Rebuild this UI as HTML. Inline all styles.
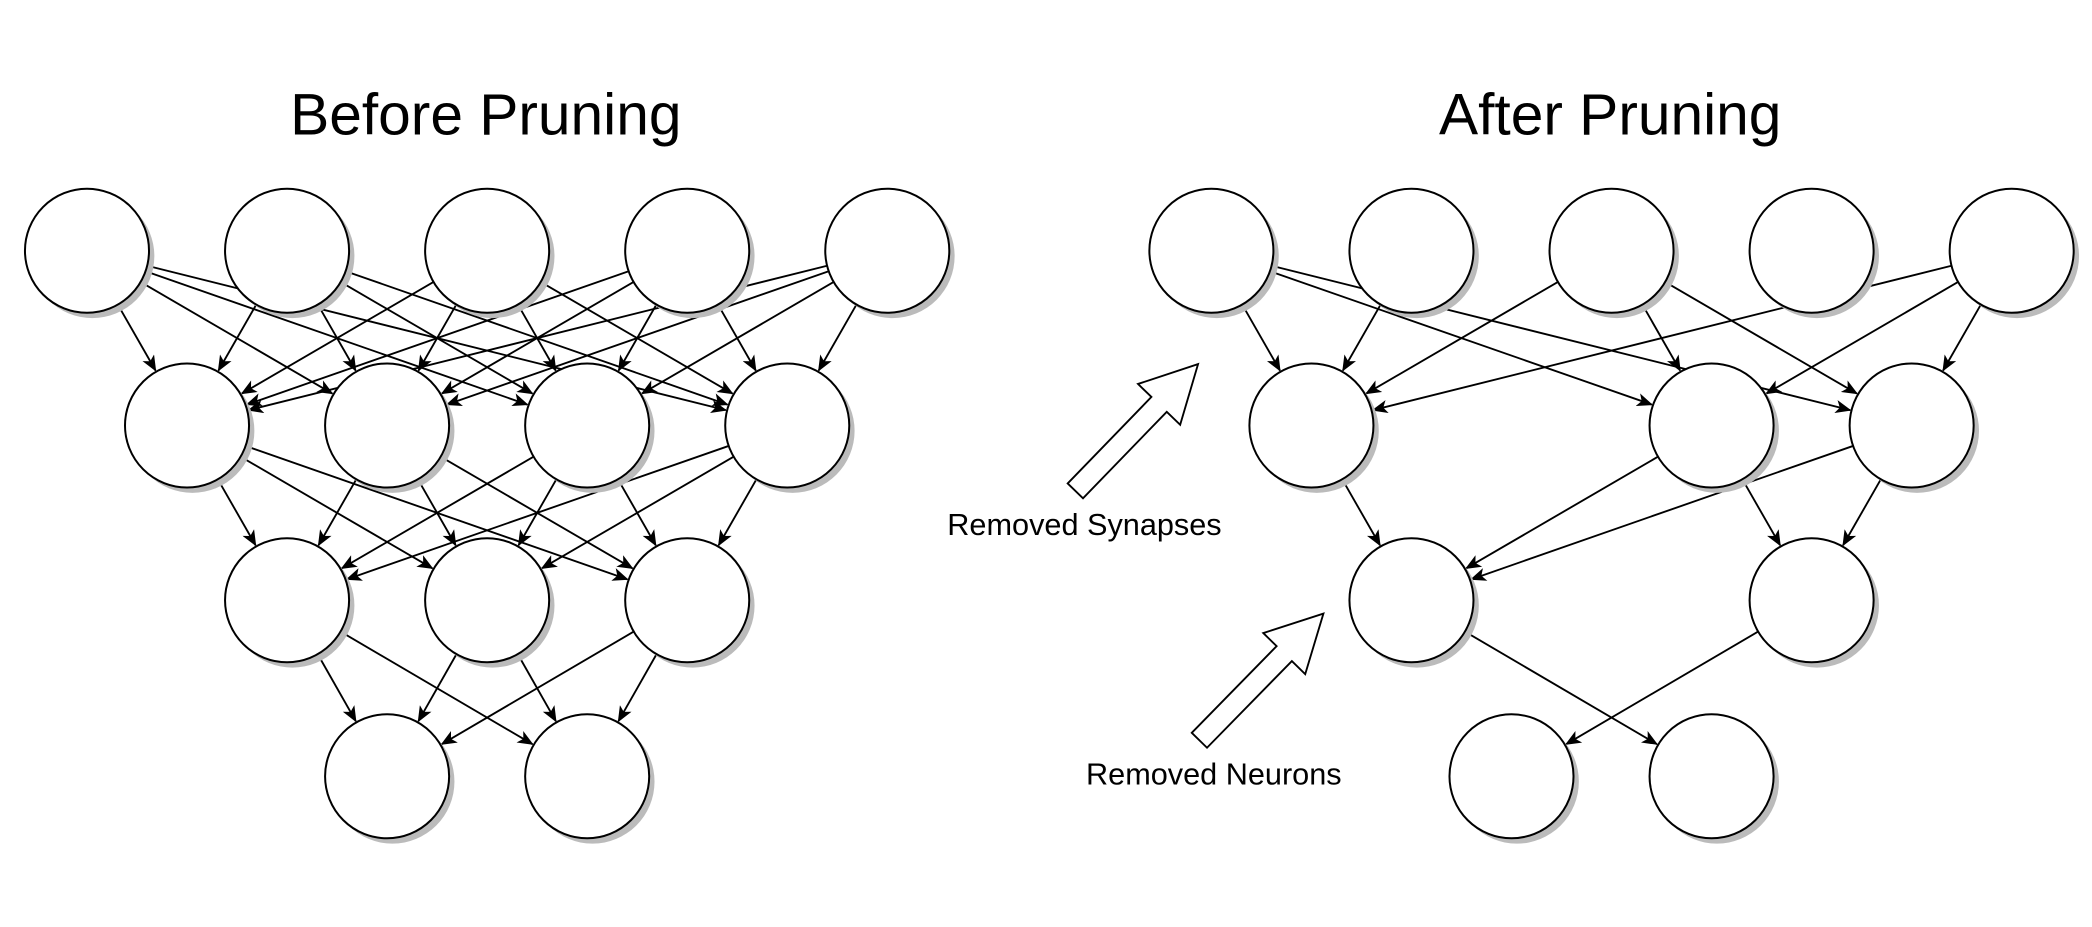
<!DOCTYPE html>
<html><head><meta charset="utf-8"><style>
html,body{margin:0;padding:0;background:#fff;}
svg{display:block;}
text{font-family:"Liberation Sans",Arial,sans-serif;fill:#000;}
</style></head><body>
<svg id="s" width="2092" height="927" viewBox="0 0 1568 695" xmlns="http://www.w3.org/2000/svg">
<defs>
<marker id="ah" markerWidth="12" markerHeight="10" refX="11" refY="5" orient="auto" markerUnits="userSpaceOnUse">
<path d="M0,0 L12,5 L0,10 L3,5 z" fill="#000"/>
</marker>
</defs>
<text x="364" y="101" font-size="44" text-anchor="middle">Before Pruning</text>
<text x="1207" y="101" font-size="44" text-anchor="middle">After Pruning</text>
<text x="710" y="401" font-size="23">Removed Synapses</text>
<text x="814" y="588" font-size="23">Removed Neurons</text>
<g id="edges" stroke="#000" stroke-width="1.4" fill="none"></g>
<g id="nodes"></g>
<g id="big" fill="#fff" stroke="#000" stroke-width="1.4"></g>
</svg>
<script>
var NS="http://www.w3.org/2000/svg",R=46.5;
function el(t,a,p){var e=document.createElementNS(NS,t);for(var k in a)e.setAttribute(k,a[k]);p.appendChild(e);return e;}
var E=document.getElementById('edges'),N=document.getElementById('nodes'),B=document.getElementById('big');
function node(x,y){el('circle',{cx:x+4,cy:y+4,r:R,fill:'#bbb'},N);el('circle',{cx:x,cy:y,r:R,fill:'#fff',stroke:'#000','stroke-width':1.5},N);}
function edge(a,b){var dx=b[0]-a[0],dy=b[1]-a[1],L=Math.hypot(dx,dy),ux=dx/L,uy=dy/L;
el('line',{x1:a[0]+ux*R,y1:a[1]+uy*R,x2:b[0]-ux*(R+1),y2:b[1]-uy*(R+1),'marker-end':'url(#ah)'},E);}
// before
var T=[65,215,365,515,665].map(function(x){return[x,188]}),H=[140,290,440,590].map(function(x){return[x,319]}),
M=[215,365,515].map(function(x){return[x,450]}),Bt=[290,440].map(function(x){return[x,582]});
[[T,H],[H,M],[M,Bt]].forEach(function(p){p[0].forEach(function(a){p[1].forEach(function(b){edge(a,b)})})});
T.concat(H,M,Bt).forEach(function(p){node(p[0],p[1])});
// after
var t=[908,1058,1208,1358,1508].map(function(x){return[x,188]});
var h={0:[983,319],2:[1283,319],3:[1433,319]},m={0:[1058,450],2:[1358,450]},b=[[1133,582],[1283,582]];
[[0,0],[0,2],[0,3],[1,0],[2,0],[2,2],[2,3],[4,0],[4,2],[4,3]].forEach(function(p){edge(t[p[0]],h[p[1]])});
[[0,0],[2,0],[3,0],[2,2],[3,2]].forEach(function(p){edge(h[p[0]],m[p[1]])});
edge(m[0],b[1]);edge(m[2],b[0]);
t.forEach(function(p){node(p[0],p[1])});[h[0],h[2],h[3],m[0],m[2],b[0],b[1]].forEach(function(p){node(p[0],p[1])});
// hollow arrows
function bigArrow(tx,ty,hx,hy){var dx=hx-tx,dy=hy-ty,L=Math.hypot(dx,dy),ux=dx/L,uy=dy/L,px=-uy,py=ux;
var sw=8,hw=22,hl=42;var pts=[[0,-sw],[L-hl,-sw],[L-hl,-hw],[L,0],[L-hl,hw],[L-hl,sw],[0,sw]];
el('polygon',{points:pts.map(function(q){return(tx+ux*q[0]+px*q[1])+','+(ty+uy*q[0]+py*q[1])}).join(' ')},B);}
bigArrow(806,368,898,273);
bigArrow(899,555,992,460);
</script>
</body></html>
